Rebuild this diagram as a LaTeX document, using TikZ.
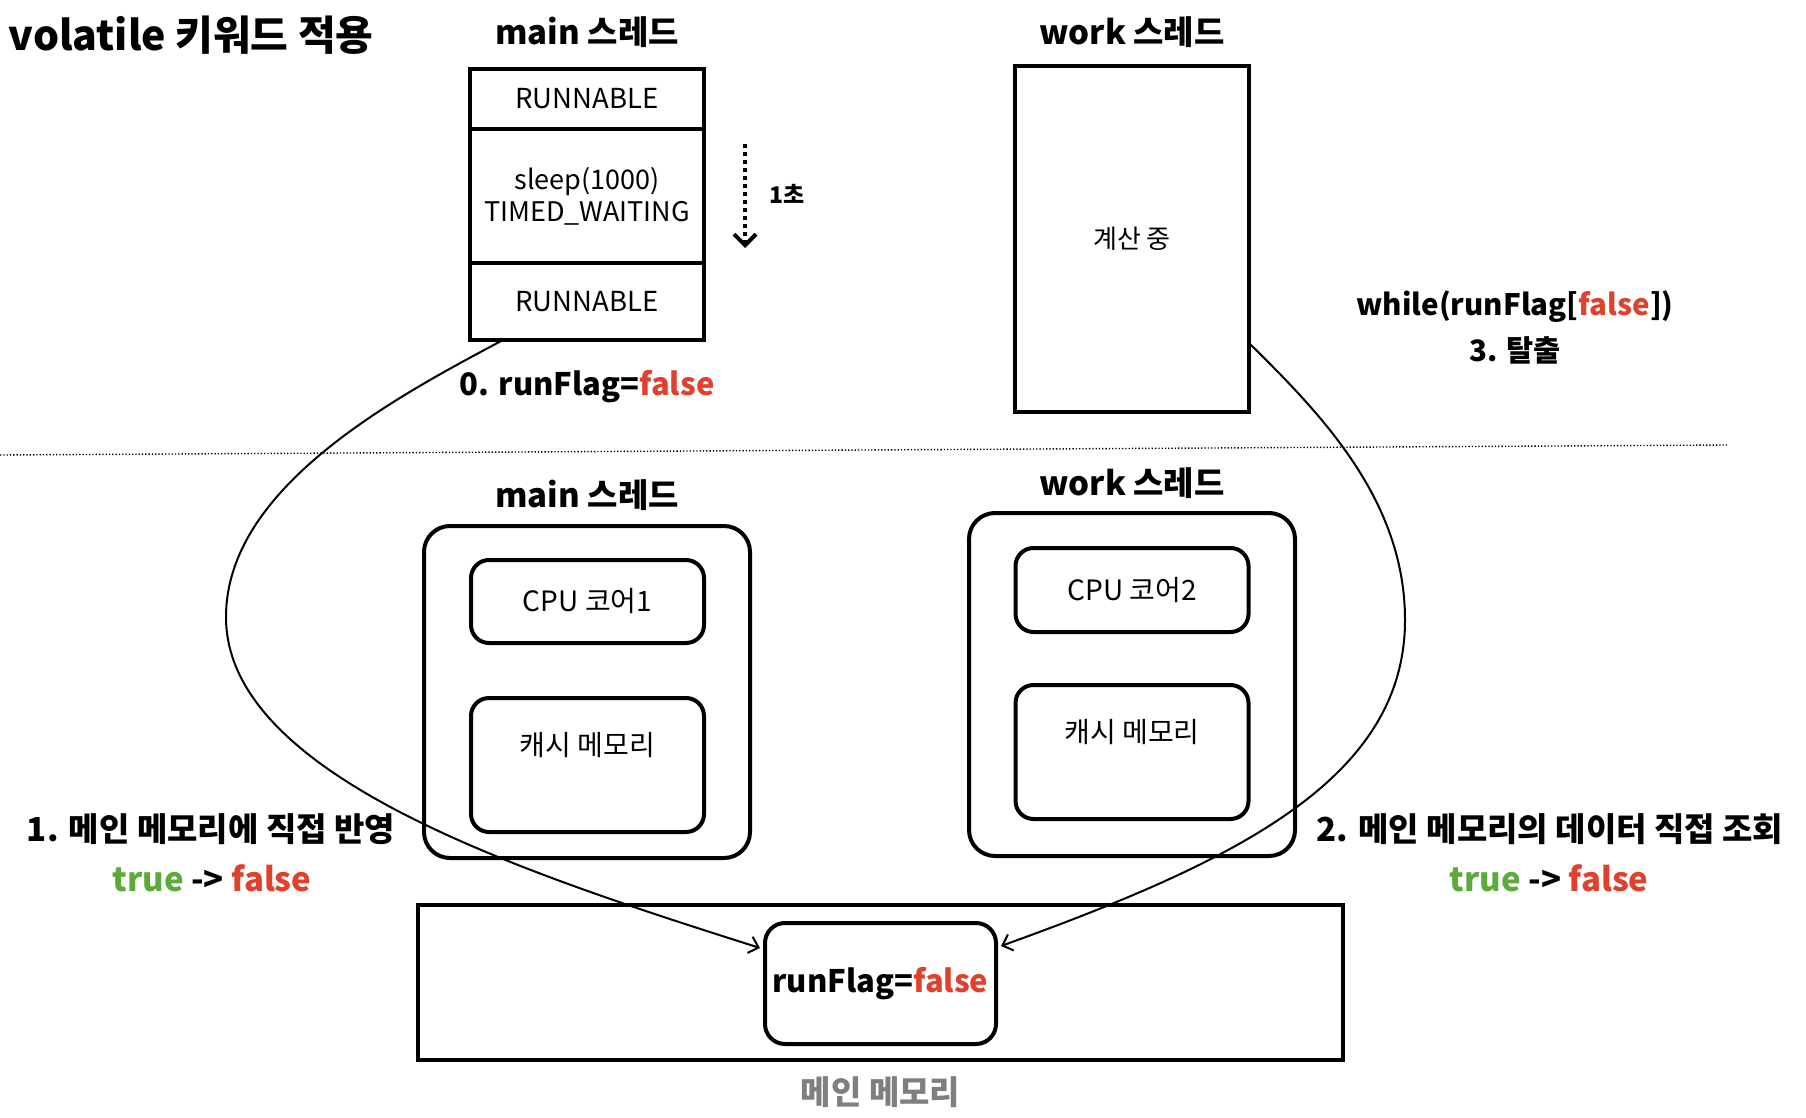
\documentclass[tikz,border=0pt]{standalone}
\usepackage{fontspec}
\setmainfont{Noto Sans CJK KR}
\usepackage{tikz}
\usetikzlibrary{arrows.meta,positioning,calc}

\definecolor{flagred}{HTML}{E0412F}
\definecolor{flaggreen}{HTML}{5BAA3A}
\definecolor{memgray}{HTML}{7F7F7F}
\newcommand{\pxfont}[1]{\fontsize{#1}{#1}\selectfont}

\begin{document}
\begin{tikzpicture}[
    x=1pt, y=-1pt,
    state/.style={draw, line width=4pt, outer sep=0pt, minimum width=234pt, inner sep=0pt, align=center, font=\pxfont{27.5}},
    core/.style={draw, line width=4pt, rounded corners=18pt, minimum width=233pt, inner sep=0pt, font=\pxfont{28}},
    thread/.style={draw, line width=4pt, rounded corners=26pt, minimum width=326pt, inner sep=0pt},
    head/.style={font=\bfseries\pxfont{33}},
    note/.style={font=\bfseries\pxfont{33}, align=center},
    arrow/.style={-{Straight Barb[length=9pt,width=17pt]}, line width=2pt}
]
\useasboundingbox (0,0) rectangle (1806,1118);

\node[anchor=west, font=\bfseries\pxfont{41}] (title) at (5,35) {volatile 키워드 적용};

% upper half: thread states
\node[head] (mainhead) at (587,32) {main 스레드};
\node[state, minimum height=60pt] (run1) at (587,99) {RUNNABLE};
\node[state, minimum height=134pt, below=0pt of run1, font=\fontsize{27}{32}\selectfont] (sleep) {sleep(1000)\\TIMED\_WAITING};
\node[state, minimum height=77pt, below=0pt of sleep] (run2) {RUNNABLE};
\coordinate (sectop) at (745,144);
\coordinate (secbot) at (745,248);
\draw[line width=4pt, dash pattern=on 4pt off 4pt, -{Straight Barb[length=11pt,width=22pt]}] (sectop) -- (secbot);
\node[anchor=west, font=\bfseries\pxfont{23}] (sec) at (766,194) {1초};
\node[note, font=\bfseries\pxfont{31}] (setflag) at (587,387) {0. runFlag={\color{flagred}false}};

\node[head] (workhead) at (1132,32) {work 스레드};
\node[state, minimum height=346pt, font=\pxfont{26}] (calc) at (1132,239) {계산 중};
\node[note, font=\bfseries\pxfont{29.5}] (exit) at (1515,327) {while(runFlag[{\color{flagred}false}])\\[13pt]3. 탈출};

\coordinate (sepL) at (0,455);
\coordinate (sepR) at (1728,445);
\draw[line width=1.4pt, dash pattern=on 1.3pt off 2pt] (sepL) -- (sepR);

% lower half: cores and memory
\node[head] (mainhead2) at (587,495) {main 스레드};
\node[thread, minimum height=332pt] (mainth) at (587,692) {};
\node[core, minimum height=83pt] (cpu1) at (587.5,601.5) {CPU 코어1};
\node[core, minimum height=134pt, label={[label distance=-65pt, font=\pxfont{28}]north:캐시 메모리}] (cache1) at (587.5,765) {};

\node[head] (workhead2) at (1132,483) {work 스레드};
\node[thread, minimum height=343pt] (workth) at (1132,684.5) {};
\node[core, minimum height=84pt] (cpu2) at (1132,590) {CPU 코어2};
\node[core, minimum height=134pt, label={[label distance=-65pt, font=\pxfont{28}]north:캐시 메모리}] (cache2) at (1132,752) {};

\node[draw, line width=4pt, minimum width=925pt, minimum height=155pt] (mainmem) at (880.5,982.5) {};
\node[draw, line width=4pt, rounded corners=20pt, minimum width=231pt, minimum height=121pt, font=\bfseries\pxfont{31}] (flag) at (880.5,983.5) {runFlag={\color{flagred}false}};
\node[font=\bfseries\pxfont{33}, text=memgray, below=11pt of mainmem] (memlabel) {메인 메모리};

\node[note] (write) at (211,829) {1. 메인 메모리에 직접 반영};
\node[note] (writeval) at (212,878) {{\color{flaggreen}true} -> {\color{flagred}false}};
\node[note] (read) at (1550,829) {2. 메인 메모리의 데이터 직접 조회};
\node[note] (readval) at (1549,878) {{\color{flaggreen}true} -> {\color{flagred}false}};

\coordinate (bendL) at (226,617);
\coordinate (bendR) at (1405,620);
\draw[arrow] ($(run2.south west)+(33,0)$) .. controls (396,397) and (226,487) .. (bendL)
    .. controls (226,777) and (524,873) .. ($(flag.north west)+(-3,27)$);
\draw[arrow] ($(calc.north east)+(0,277)$) .. controls (1321,414) and (1405,500) .. (bendR)
    .. controls (1405,780) and (1234,862) .. ($(flag.north east)+(3,25)$);
\end{tikzpicture}
\end{document}
